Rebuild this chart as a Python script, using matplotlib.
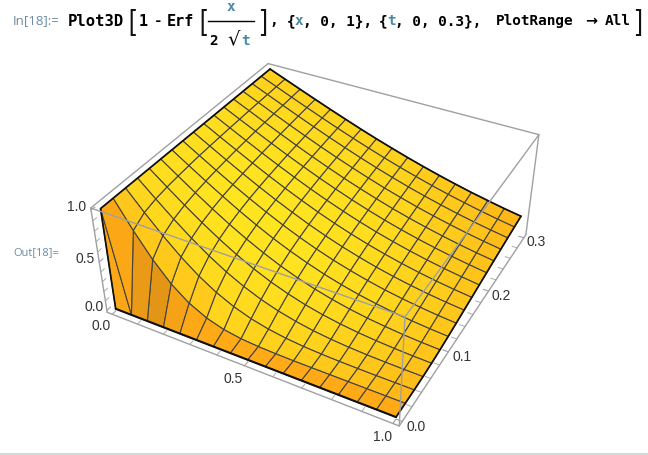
import numpy as np
import matplotlib
matplotlib.use('Agg')
import matplotlib.pyplot as plt
from matplotlib.patches import Rectangle
from matplotlib.lines import Line2D
from matplotlib.transforms import ScaledTranslation

# ---- data ----
x_values = [i / 16 for i in range(17)]
# t = 0 appears twice: the edge at x = 0 rises straight from 0 to 1 there
t_values = [0.0, 0.0, 0.01875, 0.0375, 0.05625, 0.075, 0.09375, 0.1125, 0.13125, 0.15,
            0.16875, 0.1875, 0.20625, 0.225, 0.24375, 0.2625, 0.28125, 0.3]
z_rows = [
 [0,0,0,0,0,0,0,0,0,0,0,0,0,0,0,0,0],
 [1,0,0,0,0,0,0,0,0,0,0,0,0,0,0,0,0],
 [1,.747,.519,.333,.197,.107,.053,.024,.010,.004,.001,.000,.000,.000,.000,.000,.000],
 [1,.819,.648,.494,.361,.254,.171,.110,.068,.040,.022,.012,.006,.003,.001,.001,.000],
 [1,.852,.709,.576,.456,.351,.264,.192,.136,.094,.062,.040,.025,.015,.009,.005,.003],
 [1,.872,.747,.629,.519,.420,.333,.258,.197,.146,.107,.076,.053,.036,.024,.015,.010],
 [1,.885,.773,.665,.564,.471,.387,.312,.248,.194,.149,.112,.083,.061,.043,.030,.021],
 [1,.895,.792,.693,.598,.510,.429,.357,.293,.236,.188,.147,.114,.087,.065,.048,.035],
 [1,.903,.807,.714,.626,.542,.464,.393,.329,.272,.223,.180,.143,.113,.088,.067,.051],
 [1,.909,.819,.732,.648,.568,.494,.424,.361,.304,.254,.209,.171,.138,.110,.087,.068],
 [1,.914,.830,.747,.667,.591,.519,.451,.389,.333,.282,.237,.197,.162,.132,.107,.085],
 [1,.919,.838,.759,.683,.610,.540,.475,.414,.358,.307,.262,.221,.185,.153,.126,.102],
 [1,.922,.846,.770,.697,.627,.559,.496,.436,.381,.330,.284,.243,.206,.173,.144,.119],
 [1,.926,.852,.780,.709,.641,.576,.514,.456,.402,.351,.305,.264,.226,.192,.162,.136],
 [1,.929,.858,.788,.720,.654,.591,.531,.474,.420,.371,.325,.283,.245,.210,.179,.152],
 [1,.931,.863,.796,.730,.666,.605,.546,.490,.438,.388,.343,.301,.262,.227,.196,.168],
 [1,.934,.868,.803,.739,.677,.617,.560,.505,.453,.405,.359,.317,.279,.243,.211,.182],
 [1,.936,.872,.809,.747,.687,.628,.572,.519,.468,.420,.375,.333,.294,.259,.226,.197],
]
x_ticks = [0.0, 0.5, 1.0]
t_ticks = [0.0, 0.1, 0.2, 0.3]
z_ticks = [0.0, 0.5, 1.0]
x_minor = [0.1, 0.2, 0.3, 0.4, 0.6, 0.7, 0.8, 0.9]
t_minor = [0.02, 0.04, 0.06, 0.08, 0.12, 0.14, 0.16, 0.18, 0.22, 0.24, 0.26, 0.28]
z_minor = [0.1, 0.2, 0.3, 0.4, 0.6, 0.7, 0.8, 0.9]

X, T = np.meshgrid(x_values, t_values)
Z = np.array(z_rows, float)
W, H = 648, 455

fig = plt.figure(figsize=(W / 100, H / 100), dpi=100, facecolor='white')
side = 204.71
ax = fig.add_axes([220.46 / W, 127.45 / H, side / W, side / H], projection='3d', computed_zorder=False)
ax.patch.set_visible(False)
xl, tl, zl = (-.02, 1.02), (-.006, .306), (-.02, 1.02)
ax.set_xlim(*xl, view_margin=0); ax.set_ylim(*tl, view_margin=0); ax.set_zlim(*zl, view_margin=0)
ax.view_init(36.267, -61.322, 0.204)
ax.set_proj_type('persp', focal_length=1.0)
ax.set_box_aspect((1, 0.9936, 0.3966), zoom=2.217)

# shading
yellow = np.array([255, 228, 32]) / 255
orange = np.array([255, 170, 22]) / 255
dark = np.array([150, 92, 22]) / 255
cols = np.zeros(Z.shape + (4,))
cols[..., 3] = 1
wall = {0: .03, 1: .2, 2: .27, 3: .1, 4: .02}
for j in range(Z.shape[0]):
    for i in range(Z.shape[1]):
        jj, ii = min(j, Z.shape[0] - 2), min(i, Z.shape[1] - 2)
        cx, ct = (X[jj, ii] + X[jj, ii + 1]) / 2, (T[jj, ii] + T[jj + 1, ii]) / 2
        m = .55 * ((cx - .3) / .7) ** 2 + (.45 * ((.12 - ct) / .12) ** 2 if ct < .12 else .3 * ((ct - .12) / .18) ** 2)
        c = yellow + (orange - yellow) * min(m, 1)
        if jj == 1:
            c = orange + (dark - orange) * wall.get(ii, 0)
        elif jj == 2 and ii < 5:
            c = c + (orange - c) * .25
        if jj <= 1 and ii == 0:
            c = orange + (dark - orange) * .03
        cols[j, i, :3] = c

surf = ax.plot_surface(X, T, Z, rstride=1, cstride=1, facecolors=cols, shade=False,
                       edgecolor='#45433c', linewidth=0.8, antialiased=True, zorder=3)
surf.set_clip_on(False)

grey = '#a0a0a0'
def line(xs, ts, zs, color=grey, lw=1.0, z=2):
    l, = ax.plot(xs, ts, zs, color=color, lw=lw, zorder=z, solid_capstyle='round')
    l.set_clip_on(False)

# back edges
line([xl[0], xl[0]], [tl[0], tl[1]], [zl[1], zl[1]])
line([xl[0], xl[1]], [tl[1], tl[1]], [zl[1], zl[1]])
line([xl[1], xl[1]], [tl[1], tl[1]], [zl[0], zl[1]])
line([xl[0], xl[0]], [tl[0], tl[0]], [zl[0], zl[1]])
line([xl[0], xl[1]], [tl[0], tl[0]], [zl[0], zl[0]])
line([xl[1], xl[1]], [tl[0], tl[1]], [zl[0], zl[0]])
# front edges drawn over the surface
line([xl[0], xl[1]], [tl[0], tl[0]], [zl[1], zl[1]], z=6)
line([xl[1], xl[1]], [tl[0], tl[1]], [zl[1], zl[1]], z=6)
line([xl[1], xl[1]], [tl[0], tl[0]], [zl[0], zl[1]], z=6)

# surface outline
k = '#111111'
line(X[:, 0], T[:, 0], Z[:, 0], k, 1.25, 5)
line(X[-1, :], T[-1, :], Z[-1, :], k, 1.25, 5)
line(X[1:, -1], T[1:, -1], Z[1:, -1], k, 1.25, 5)
line(X[0, :], T[0, :], Z[0, :], k, 1.5, 5)

for axis in (ax.xaxis, ax.yaxis, ax.zaxis):
    axis.set_pane_color((1, 1, 1, 0))
    axis.pane.set_edgecolor((1, 1, 1, 0))
    axis.line.set_color((1, 1, 1, 0))
    axis._axinfo['grid']['color'] = (1, 1, 1, 0)
    axis._axinfo['tick']['inward_factor'] = -0.22
    axis._axinfo['tick']['outward_factor'] = 0.0
ax.grid(False)
ax.set_xticks(x_ticks); ax.set_yticks(t_ticks); ax.set_zticks(z_ticks)
ax.set_xticks(x_minor, minor=True); ax.set_yticks(t_minor, minor=True); ax.set_zticks(z_minor, minor=True)
ax.set_xticklabels(['0.0', '0.5', '1.0']); ax.set_yticklabels(['0.0', '0.1', '0.2', '0.3']); ax.set_zticklabels(['0.0', '0.5', '1.0'])
ax.zaxis.set_ticks_position('lower')
ax.zaxis.set_label_position('lower')

def nudge_labels(axis, dx, dy):
    # Axis3D resets its tick label transforms whenever it fetches the ticks
    offset = ScaledTranslation(dx / 100, dy / 100, fig.dpi_scale_trans)
    original = axis.get_major_ticks
    def patched(numticks=None):
        ticks = original(numticks)
        for tick in ticks:
            tick.label1.set_transform(ax.transData + offset)
        return ticks
    axis.get_major_ticks = patched

for axis, shift in ((ax.xaxis, (-5, 5)), (ax.yaxis, (3, 9)), (ax.zaxis, (3, 13))):
    axis.set_tick_params(which='both', color=grey, width=0.9, labelsize=10, labelcolor='#333333', pad=-5.3,
                         labelfontfamily='Liberation Sans')
    nudge_labels(axis, *shift)

# header
def txt(px, py, s, color='black', size=10.4, family='DejaVu Sans Mono', weight='bold', ha='left'):
    fig.text(px / W, 1 - py / H, s, color=color, fontsize=size, family=family, weight=weight, ha=ha, va='center')

teal = '#4a8aa6'
label = '#6c8ba3'
base = 21
txt(13, base, 'In[18]:=', label, 9.5, 'Open Sans', 'normal')
txt(13, 253, 'Out[18]=', label, 8.0, 'Open Sans', 'normal')
txt(68, base, 'Plot3D', size=11.2)
txt(139, base, '1', size=11)
txt(154, base, '-')
txt(167, base, 'Erf', size=11)
txt(231, 7, 'x', teal, ha='center')
txt(209, 41, '2')
txt(227, 39, '√', size=14, family='DejaVu Sans', weight='normal')
txt(241, 41, 't', teal)
fig.add_artist(Line2D([208 / W, 254 / W], [1 - 21 / H] * 2, color='black', lw=1.0))
for bx in (127, 198, 259, 634):
    txt(bx, 23, '[' if bx < 200 else ']', '#111111', 20.5, 'Lato', 'normal')
txt(269, base, ',')
txt(287, base, '{')
txt(295, base, 'x', teal)
txt(303, base, ', 0, 1},')
txt(379, base, '{')
txt(387, base, 't', teal)
txt(395, base, ', 0, 0.3},')
txt(496, base, 'PlotRange')
txt(585, base, '→', family='DejaVu Sans')
txt(605, base, 'All')

fig.add_artist(Rectangle((0, 0), 1, 2 / H, transform=fig.transFigure, facecolor='#d3dbd9', edgecolor='none'))
fig.savefig('out.png', dpi=100, facecolor='white')
